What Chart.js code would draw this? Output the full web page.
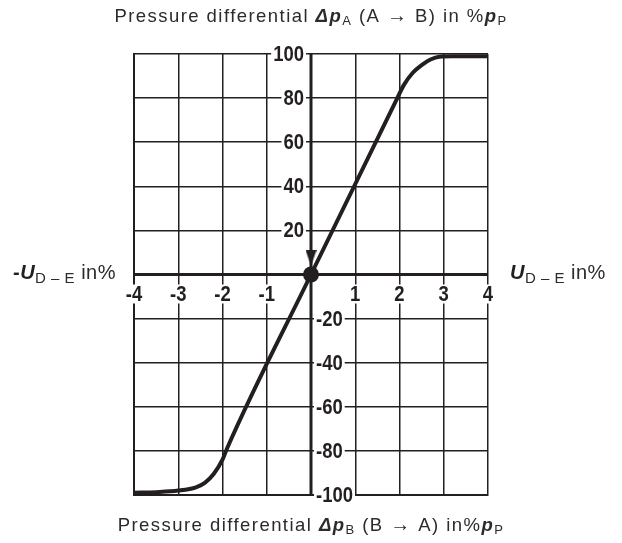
<!DOCTYPE html>
<html><head><meta charset="utf-8">
<script src="https://cdn.jsdelivr.net/npm/chart.js@4"></script>
<style>html,body{margin:0;padding:0;background:#fff}</style>
</head><body>
<canvas id="c" width="622" height="543"></canvas>
<script>
// ---- data ----
const curveX = [-4, -3.5, -3, -2.6, -2.4, -2.2, -2.0, -1.9, 0, 1.95, 2.1, 2.3, 2.5, 2.7, 2.9, 3.2, 4];
const curveY = [-99, -98.7, -98, -96.5, -94.5, -90.5, -84, -79, 0, 80, 86, 91.5, 95, 97.5, 98.8, 99, 99];
const xTickValues = [-4, -3, -2, -1, 1, 2, 3, 4];
const xTickLabels = ['-4', '-3', '-2', '-1', '1', '2', '3', '4'];
const yTickValues = [100, 80, 60, 40, 20, -20, -40, -60, -80, -100];
const yTickLabels = ['100', '80', '60', '40', '20', '-20', '-40', '-60', '-80', '-100'];
const originPoint = [{x: 0, y: 0}];
const arrowPoint = [{x: 0, y: 7.5}];

const INK = '#231f20';
const TEXT = '#2b2b2b';
const TICK_FONT = 'bold 22px "Liberation Sans", Arial, sans-serif';
const TICK_SX = 0.84;
const BASE = '"Liberation Sans", Arial, sans-serif';

// arrow head image
const arrowImg = document.createElement('canvas');
arrowImg.width = 11; arrowImg.height = 16;
(function(){
  const g = arrowImg.getContext('2d');
  g.fillStyle = INK;
  g.beginPath(); g.moveTo(0, 0); g.lineTo(11, 0); g.lineTo(5.5, 16); g.closePath(); g.fill();
})();

function drawRuns(ctx, runs, cx, y, align, spacing) {
  ctx.letterSpacing = (spacing || 0) + 'px';
  let total = 0;
  runs.forEach(r => { ctx.font = r.font; r.w = ctx.measureText(r.text).width; total += r.w; });
  let x = align === 'left' ? cx : (align === 'right' ? cx - total : cx - total / 2);
  ctx.textAlign = 'left';
  ctx.textBaseline = 'alphabetic';
  runs.forEach(r => {
    ctx.font = r.font;
    ctx.fillStyle = r.color || TEXT;
    ctx.fillText(r.text, x, y + (r.dy || 0));
    x += r.w;
  });
  ctx.letterSpacing = '0px';
}

const axesPlugin = {
  id: 'centerAxes',
  beforeDatasetsDraw(chart) {
    const ctx = chart.ctx;
    const xs = chart.scales.x, ys = chart.scales.y;
    const x0 = xs.getPixelForValue(0), y0 = ys.getPixelForValue(0);
    ctx.save();
    ctx.strokeStyle = INK;
    ctx.lineWidth = 3;
    ctx.beginPath();
    ctx.moveTo(x0, ys.getPixelForValue(100)); ctx.lineTo(x0, ys.getPixelForValue(-100));
    ctx.moveTo(xs.getPixelForValue(-4), y0); ctx.lineTo(xs.getPixelForValue(4), y0);
    ctx.stroke();
    ctx.font = TICK_FONT;
    ctx.textBaseline = 'middle';
    ctx.textAlign = 'left';
    const put = (t, lx, py, w) => {
      ctx.fillStyle = '#fff';
      ctx.fillRect(lx - 2, py - 9, w + 4, 19);
      ctx.fillStyle = INK;
      ctx.save();
      ctx.translate(lx, py + 1);
      ctx.scale(TICK_SX, 1);
      ctx.fillText(t, 0, 0);
      ctx.restore();
    };
    yTickValues.forEach((v, i) => {
      const t = yTickLabels[i];
      const w = ctx.measureText(t).width * TICK_SX;
      const py = ys.getPixelForValue(v);
      const lx = v > 0 ? x0 - 7 - w : x0 + 5;
      put(t, lx, py, w);
    });
    xTickValues.forEach((v, i) => {
      const t = xTickLabels[i];
      const w = ctx.measureText(t).width * TICK_SX;
      const px = xs.getPixelForValue(v);
      put(t, px - w / 2, y0 + 19, w);
    });
    ctx.restore();
  },
  afterDraw(chart) {
    const ctx = chart.ctx;
    const ys = chart.scales.y;
    const y0 = ys.getPixelForValue(0);
    ctx.save();
    const reg = '18.5px ' + BASE, sub = '13px ' + BASE, bi = 'italic bold 18.5px ' + BASE, arr = '20px ' + BASE;
    drawRuns(ctx, [
      {text: 'Pressure differential ', font: reg},
      {text: 'Δp', font: bi},
      {text: 'A', font: sub, dy: 3},
      {text: ' (A ', font: reg},
      {text: '→', font: arr},
      {text: ' B) in %', font: reg},
      {text: 'p', font: bi},
      {text: 'P', font: sub, dy: 3}
    ], 311, 22, 'center', 1.45);
    drawRuns(ctx, [
      {text: 'Pressure differential ', font: reg},
      {text: 'Δp', font: bi},
      {text: 'B', font: sub, dy: 3},
      {text: ' (B ', font: reg},
      {text: '→', font: arr},
      {text: ' A) in%', font: reg},
      {text: 'p', font: bi},
      {text: 'P', font: sub, dy: 3}
    ], 311, 531, 'center', 1.45);
    const lab = '20px ' + BASE, labB = 'italic bold 20px ' + BASE, labS = '15px ' + BASE;
    drawRuns(ctx, [
      {text: '-', font: 'bold 20px ' + BASE, color: INK},
      {text: 'U', font: labB, color: INK},
      {text: 'D – E', font: labS, dy: 4},
      {text: ' in%', font: lab}
    ], 13, y0 + 4, 'left', 0.5);
    drawRuns(ctx, [
      {text: 'U', font: labB, color: INK},
      {text: 'D – E', font: labS, dy: 4},
      {text: ' in%', font: lab}
    ], 510, y0 + 4, 'left', 0.5);
    ctx.restore();
  }
};

new Chart(document.getElementById('c'), {
  type: 'scatter',
  data: {
    datasets: [
      {
        data: curveX.map((x, i) => ({x: x, y: curveY[i]})),
        showLine: true,
        borderColor: INK,
        borderWidth: 4,
        pointRadius: 0,
        cubicInterpolationMode: 'monotone',
        order: 3
      },
      {
        data: originPoint,
        pointRadius: 8,
        backgroundColor: INK,
        borderWidth: 0,
        order: 1
      },
      {
        data: arrowPoint,
        pointStyle: arrowImg,
        order: 2
      }
    ]
  },
  options: {
    responsive: false,
    animation: false,
    devicePixelRatio: 1,
    layout: {padding: {left: 134, right: 134, top: 54, bottom: 48}},
    plugins: {legend: {display: false}, tooltip: {enabled: false}},
    scales: {
      x: {
        type: 'linear', min: -4, max: 4,
        ticks: {stepSize: 1, display: false},
        grid: {color: INK, lineWidth: 1.5, drawTicks: false},
        border: {display: true, color: INK, width: 2},
        afterFit(s) { s.height = 0; }
      },
      y: {
        type: 'linear', min: -100, max: 100,
        ticks: {stepSize: 20, display: false},
        grid: {color: INK, lineWidth: 1.5, drawTicks: false},
        border: {display: true, color: INK, width: 2},
        afterFit(s) { s.width = 0; }
      }
    }
  },
  plugins: [axesPlugin]
});
</script>
</body></html>
